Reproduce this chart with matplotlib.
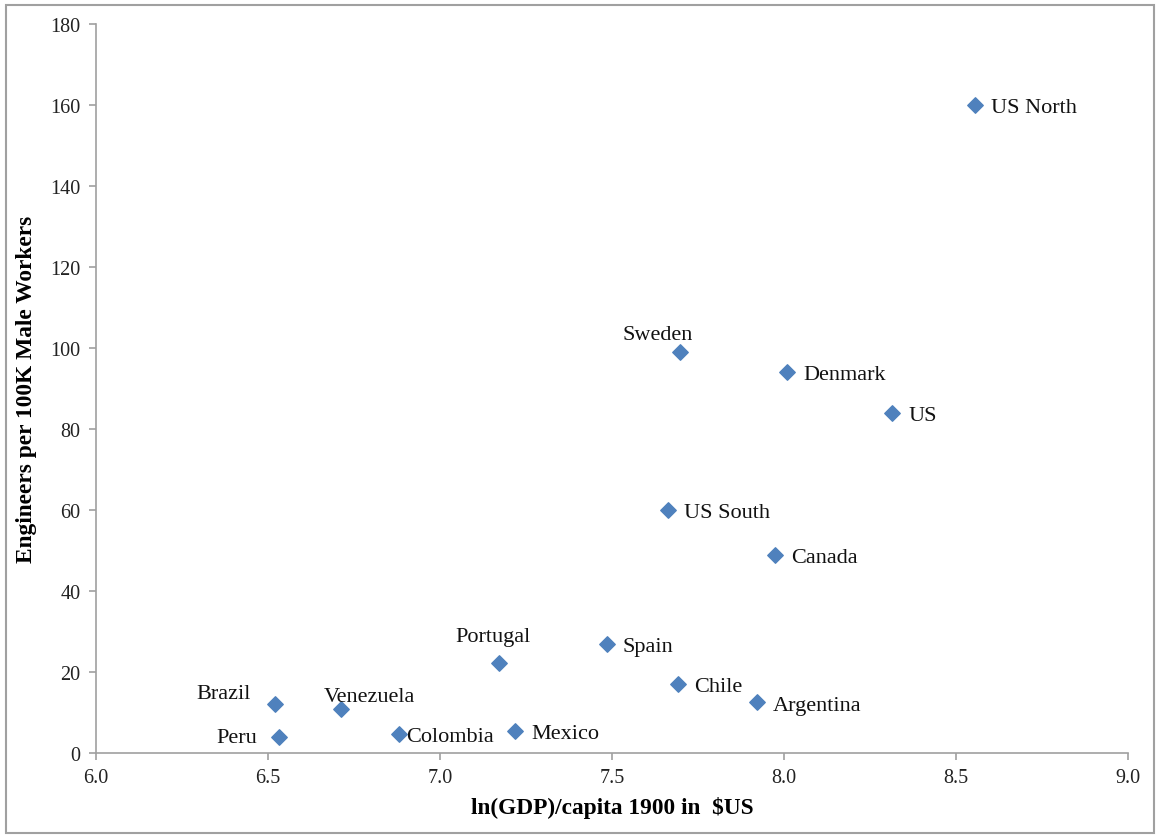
import matplotlib
matplotlib.use('Agg')
import matplotlib.pyplot as plt
from matplotlib.patches import Rectangle

plt.rcParams['font.family'] = ['Liberation Serif', 'DejaVu Serif']

# ln(GDP)/capita 1900 and engineers per 100K male workers
countries = ['US North', 'Sweden', 'Denmark', 'US', 'US South', 'Canada',
             'Portugal', 'Spain', 'Chile', 'Argentina', 'Brazil', 'Venezuela',
             'Peru', 'Colombia', 'Mexico']
gdp = [8.555, 7.698, 8.009, 8.314, 7.663, 7.974,
       7.172, 7.485, 7.692, 7.922, 6.520, 6.712,
       6.532, 6.881, 7.218]
engineers = [160, 99, 94, 84, 60, 48.8,
             22.3, 27, 17, 12.5, 12, 10.8,
             4, 4.7, 5.4]

# label placement (pixel offsets, alignment)
offsets = {
    'US North': (16, 0, 'left'), 'Sweden': (-22, 20, 'center'),
    'Denmark': (16, 0, 'left'), 'US': (16, 0, 'left'),
    'US South': (16, 0, 'left'), 'Canada': (16, 0, 'left'),
    'Portugal': (-6, 29, 'center'), 'Spain': (16, 0, 'left'),
    'Chile': (16, 0, 'left'), 'Argentina': (16, -1, 'left'),
    'Brazil': (-24, 13, 'right'), 'Venezuela': (29, 15, 'center'),
    'Peru': (-22, 2, 'right'), 'Colombia': (7, 0, 'left'),
    'Mexico': (16, 0, 'left'),
}

fig = plt.figure(figsize=(11.57, 8.37), dpi=100)
ax = fig.add_axes([96/1157, 1-754/837, (1128-96)/1157, (754-25)/837])

ax.scatter(gdp, engineers, marker='D', s=62, color='#4F81BD', zorder=3)
for name, x, y in zip(countries, gdp, engineers):
    dx, dy, ha = offsets[name]
    ax.annotate(name, (x, y), xytext=(dx*0.72, dy*0.72), textcoords='offset points',
                ha=ha, va='center_baseline', fontsize=16, color='#111111')

ax.set_xlim(6.0, 9.0)
ax.set_ylim(0, 180)
ax.set_xticks([6.0, 6.5, 7.0, 7.5, 8.0, 8.5, 9.0])
ax.set_xticklabels(['6.0', '6.5', '7.0', '7.5', '8.0', '8.5', '9.0'])
ax.set_yticks(range(0, 181, 20))
for s in ['top', 'right']:
    ax.spines[s].set_visible(False)
for s in ['left', 'bottom']:
    ax.spines[s].set_color('#A0A0A0')
    ax.spines[s].set_linewidth(1.2)
ax.tick_params(direction='out', length=5, width=1.2, color='#A0A0A0',
               labelsize=14.5, labelcolor='#222222', pad=6)

ax.set_xlabel('ln(GDP)/capita 1900 in  $US', fontsize=16.8, fontweight='bold', labelpad=6)
ax.set_ylabel('Engineers per 100K Male Workers', fontsize=16.8, fontweight='bold', labelpad=10)

fig.patches.append(Rectangle((6/1157, 3/837), 1148/1157, 828/837, transform=fig.transFigure,
                             fill=False, edgecolor='#A0A0A0', linewidth=1.5))

fig.savefig('out.png', dpi=100)
